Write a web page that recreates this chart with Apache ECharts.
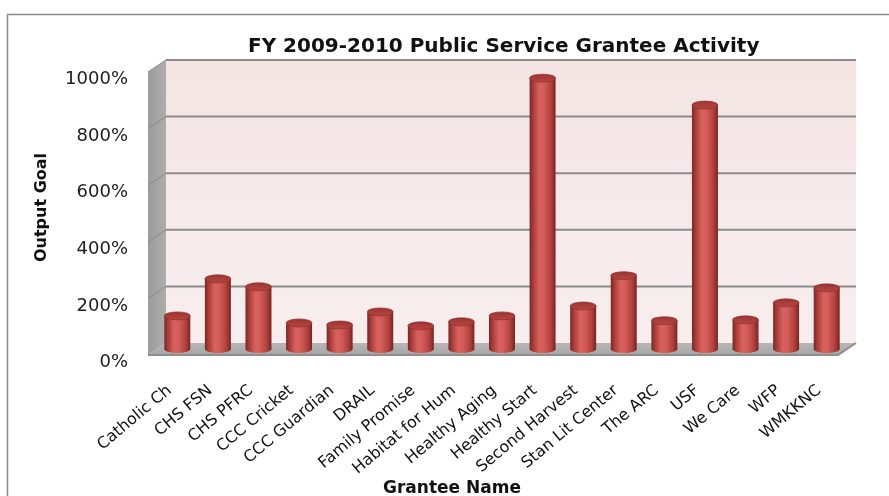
<!DOCTYPE html>
<html>
<head>
<meta charset="utf-8">
<script src="https://cdn.jsdelivr.net/npm/echarts@6/dist/echarts.min.js"></script>
<style>
html,body{margin:0;padding:0;background:#fff;}
#chart{width:889px;height:496px;}
</style>
</head>
<body>
<div id="chart"></div>
<script>
// ---- data ----
var chartTitle = 'FY 2009-2010 Public Service Grantee Activity';
var categories = ['Catholic Ch', 'CHS FSN', 'CHS PFRC', 'CCC Cricket', 'CCC Guardian', 'DRAIL',
  'Family Promise', 'Habitat for Hum', 'Healthy Aging', 'Healthy Start', 'Second Harvest',
  'Stan Lit Center', 'The ARC', 'USF', 'We Care', 'WFP', 'WMKKNC'];
var outputGoal = [117, 248, 220, 92, 85, 131, 82, 96, 117, 957, 152, 259, 100, 862, 103, 163, 216];
var yTicks = [0, 200, 400, 600, 800, 1000];
var xAxisName = 'Grantee Name';
var yAxisName = 'Output Goal';

// ---- depth styling (3D look) ----
var DX = 18, DY = -12;
var FONT = 'DejaVu Sans';

var chart = echarts.init(document.getElementById('chart'));

function wallsRender(params, api) {
  var n = categories.length;
  var band = api.size([1, 0])[0];
  var L = api.coord([0, 0])[0] - band / 2;
  var R = api.coord([n - 1, 0])[0] + band / 2;
  var y0 = api.coord([0, yTicks[0]])[1];
  var yTop = api.coord([0, yTicks[yTicks.length - 1]])[1];
  var hx = DX / 2, hy = DY / 2;
  var children = [];
  // back wall
  children.push({
    type: 'rect',
    shape: { x: L + hx, y: yTop + hy, width: R - L, height: y0 - yTop },
    style: { fill: new echarts.graphic.LinearGradient(0, 0, 0, 1, [
      { offset: 0, color: '#f4e4e4' }, { offset: 1, color: '#f8eeee' }]) }
  });
  // left wall
  children.push({
    type: 'polygon',
    shape: { points: [[L - hx, yTop - hy], [L + hx, yTop + hy], [L + hx, y0 + hy], [L - hx, y0 - hy]] },
    style: { fill: new echarts.graphic.LinearGradient(0, 0, 1, 0, [
      { offset: 0, color: '#9c9c9c' }, { offset: 1, color: '#adadad' }]) }
  });
  // floor
  children.push({
    type: 'polygon',
    shape: { points: [[L - hx, y0 - hy], [L + hx, y0 + hy], [R + hx, y0 + hy], [R - hx, y0 - hy]] },
    style: { fill: new echarts.graphic.LinearGradient(0, 0, 0, 1, [
      { offset: 0, color: '#b7b7b7' }, { offset: 1, color: '#a6a6a6' }]) }
  });
  children.push({
    type: 'polyline',
    shape: { points: [[L - hx, y0 - hy], [R - hx, y0 - hy], [R + hx, y0 + hy]] },
    style: { stroke: '#8e8e8e', lineWidth: 2, fill: null }
  });
  // gridlines
  for (var k = 1; k < yTicks.length; k++) {
    var yy = api.coord([0, yTicks[k]])[1];
    children.push({
      type: 'line',
      shape: { x1: L + hx, y1: yy + hy, x2: R + hx, y2: yy + hy },
      style: { stroke: '#8c8c8c', lineWidth: 2 }
    });
    children.push({
      type: 'line',
      shape: { x1: L - hx, y1: yy - hy, x2: L + hx, y2: yy + hy },
      style: { stroke: '#8a8a8a', lineWidth: 1 }
    });
  }
  return { type: 'group', children: children };
}

function barRender(params, api) {
  var i = api.value(0), v = api.value(1);
  var base = api.coord([i, 0]);
  var top = api.coord([i, v]);
  var w = api.size([1, 0])[0] * 0.64;
  var cx = base[0], by = base[1], ty = top[1];
  var rx = w / 2, ry = 4;
  var bodyGrad = new echarts.graphic.LinearGradient(0, 0, 1, 0, [
    { offset: 0, color: '#7c2725' }, { offset: 0.18, color: '#b3423e' },
    { offset: 0.38, color: '#d8625e' }, { offset: 0.55, color: '#d55d59' },
    { offset: 0.82, color: '#b1413e' }, { offset: 1, color: '#782422' }]);
  var topGrad = new echarts.graphic.LinearGradient(0, 0, 0, 1, [
    { offset: 0, color: '#9a3432' }, { offset: 1, color: '#b84642' }]);
  return {
    type: 'group',
    children: [
      { type: 'circle', shape: { cx: 0, cy: 0, r: rx }, x: cx, y: by, scaleY: ry / rx,
        style: { fill: bodyGrad } },
      { type: 'rect', shape: { x: cx - rx, y: ty, width: w, height: by - ty },
        style: { fill: bodyGrad } },
      { type: 'circle', shape: { cx: 0, cy: 0, r: rx }, x: cx, y: ty, scaleY: ry / rx,
        style: { fill: topGrad, stroke: '#8a2e2b', lineWidth: 1 } }
    ]
  };
}

var option = {
  backgroundColor: '#ffffff',
  animation: false,
  title: {
    text: chartTitle,
    left: 243, top: 32,
    textStyle: { fontFamily: FONT, fontSize: 20, fontWeight: 'bold', color: '#111' }
  },
  graphic: [{
    type: 'rect', left: 5, top: 12, z: -10,
    shape: { width: 900, height: 500 },
    style: { fill: null, stroke: '#8a8a8a', lineWidth: 1.5 }
  }],
  grid: { left: 157, right: 42, top: 66, bottom: 147, outerBoundsMode: 'none', containLabel: false },
  xAxis: {
    type: 'category',
    data: categories,
    name: xAxisName,
    nameLocation: 'middle',
    nameGap: 131,
    nameMoveOverlap: false,
    nameTextStyle: { fontFamily: FONT, fontSize: 17, fontWeight: 'bold', color: '#111', padding: [0, 100, 0, 0] },
    axisLine: { show: false },
    axisTick: { show: false },
    axisLabel: { interval: 0, rotate: 40, margin: 33, padding: [0, 10, 0, 0],
      fontFamily: FONT, fontSize: 16, color: '#111' },
    splitLine: { show: false }
  },
  yAxis: {
    type: 'value',
    min: 0, max: 1000, interval: 200,
    name: yAxisName,
    nameLocation: 'middle',
    nameGap: 107,
    nameMoveOverlap: false,
    nameTextStyle: { fontFamily: FONT, fontSize: 16, fontWeight: 'bold', color: '#111' },
    axisLine: { show: false },
    axisTick: { show: false },
    splitLine: { show: false },
    axisLabel: { formatter: function (v) { return v + '%'; }, margin: 29,
      verticalAlign: 'top', lineHeight: 27,
      fontFamily: FONT, fontSize: 18, color: '#222' }
  },
  series: [
    {
      type: 'custom', name: 'walls', z: 1,
      data: [[0, 0]],
      encode: { x: 0, y: 1 },
      renderItem: wallsRender,
      silent: true
    },
    {
      type: 'custom', name: yAxisName, z: 2,
      data: outputGoal.map(function (v, i) { return [i, v]; }),
      encode: { x: 0, y: 1 },
      renderItem: barRender
    }
  ]
};
chart.setOption(option);
</script>
</body>
</html>
